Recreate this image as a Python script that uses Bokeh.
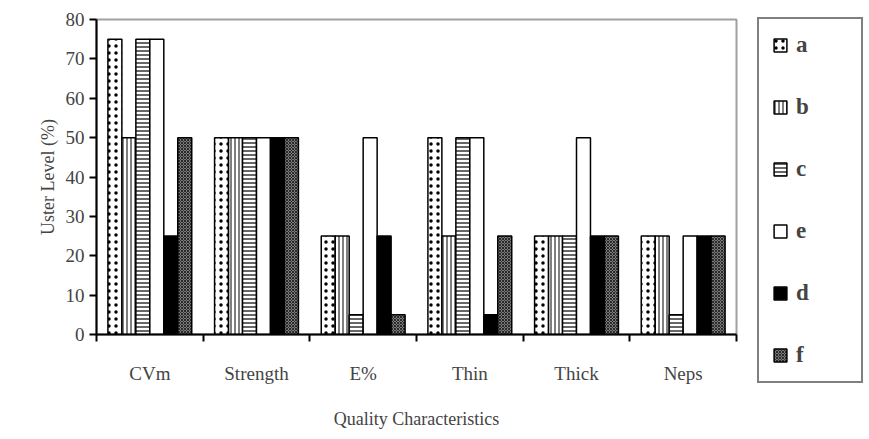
from bokeh.plotting import figure
from bokeh.models import (ColumnDataSource, Range1d, FixedTicker, Legend, LegendItem)
from bokeh.transform import dodge
from bokeh.embed import file_html
from bokeh.resources import INLINE

categories = ["CVm", "Strength", "E%", "Thin", "Thick", "Neps"]
series_names = ["a", "b", "c", "e", "d", "f"]
a = [75, 50, 25, 50, 25, 25]
b = [50, 50, 25, 25, 25, 25]
c = [75, 50, 5, 50, 25, 5]
e = [75, 50, 50, 50, 50, 25]
d = [25, 50, 25, 5, 25, 25]
f = [50, 50, 5, 25, 25, 25]
y_ticks = [0, 10, 20, 30, 40, 50, 60, 70, 80]

centers = [i + 0.5 for i in range(len(categories))]
edges = list(range(len(categories) + 1))
source = ColumnDataSource(dict(x=centers, a=a, b=b, c=c, e=e, d=d, f=f))

FONT = "Liberation Serif"

p = figure(x_range=Range1d(0, len(categories)), y_range=Range1d(0, 80),
           frame_width=640, frame_height=315,
           output_backend="svg", toolbar_location=None,
           min_border_left=96, min_border_top=19, min_border_bottom=0,
           min_border_right=0)
p.xgrid.visible = False
p.ygrid.visible = False
p.outline_line_color = "#a0a0a0"
p.outline_line_width = 2
p.background_fill_color = "white"
p.border_fill_color = "white"

styles = {
    "a": dict(fill_color="white", hatch_pattern="dot", hatch_color="black", hatch_scale=7, hatch_weight=1.5),
    "b": dict(fill_color="white", hatch_pattern="vertical_line", hatch_color="black", hatch_scale=4, hatch_weight=1),
    "c": dict(fill_color="white", hatch_pattern="horizontal_line", hatch_color="black", hatch_scale=4, hatch_weight=1.2),
    "e": dict(fill_color="white"),
    "d": dict(fill_color="black"),
    "f": dict(fill_color="#7a7a7a", hatch_pattern="diagonal_cross", hatch_color="#2a2a2a", hatch_scale=3, hatch_weight=1),
}

bw = 0.131
items = []
for j, name in enumerate(series_names):
    r = p.vbar(x=dodge("x", (j - 2.5) * bw), top=name, width=bw,
               source=source, line_color="black", line_width=1.5, **styles[name])
    items.append(LegendItem(label=name, renderers=[r]))

# y axis
p.yaxis.ticker = FixedTicker(ticks=y_ticks)
p.yaxis.axis_label = "Uster Level (%)"
p.yaxis.axis_label_text_font = FONT
p.yaxis.axis_label_text_font_style = "normal"
p.yaxis.axis_label_text_font_size = "18px"
p.yaxis.major_label_text_font = FONT
p.yaxis.major_label_text_font_size = "19px"
p.yaxis.axis_line_color = "black"
p.yaxis.axis_line_width = 2
p.yaxis.major_tick_in = 0
p.yaxis.major_tick_out = 7
p.yaxis.major_tick_line_width = 2
p.yaxis.minor_tick_line_color = None

# x axis: labels at category centres, ticks at category boundaries
xa = p.xaxis[0]
xa.ticker = FixedTicker(ticks=centers, minor_ticks=edges)
xa.major_label_overrides = {cx: name for cx, name in zip(centers, categories)}
xa.major_tick_line_color = None
xa.minor_tick_line_color = "black"
xa.minor_tick_line_width = 2
xa.minor_tick_in = 0
xa.minor_tick_out = 7
xa.axis_line_color = "black"
xa.axis_line_width = 2
xa.major_label_text_font = FONT
xa.major_label_text_font_size = "19px"
xa.major_label_standoff = 21
xa.axis_label = "Quality Characteristics"
xa.axis_label_text_font = FONT
xa.axis_label_text_font_style = "normal"
xa.axis_label_text_font_size = "18px"
xa.axis_label_standoff = 22

legend = Legend(items=items, location=(21, -49), margin=0, ncols=1,
                glyph_width=16, glyph_height=16, label_width=52, label_height=20,
                label_standoff=8, padding=13, spacing=36,
                label_text_font=FONT, label_text_font_style="bold", label_text_font_size="23px",
                border_line_color="black", border_line_width=2,
                background_fill_color="white", background_fill_alpha=1)
p.add_layout(legend, "right")

open("out.html", "w").write(file_html(p, INLINE))
